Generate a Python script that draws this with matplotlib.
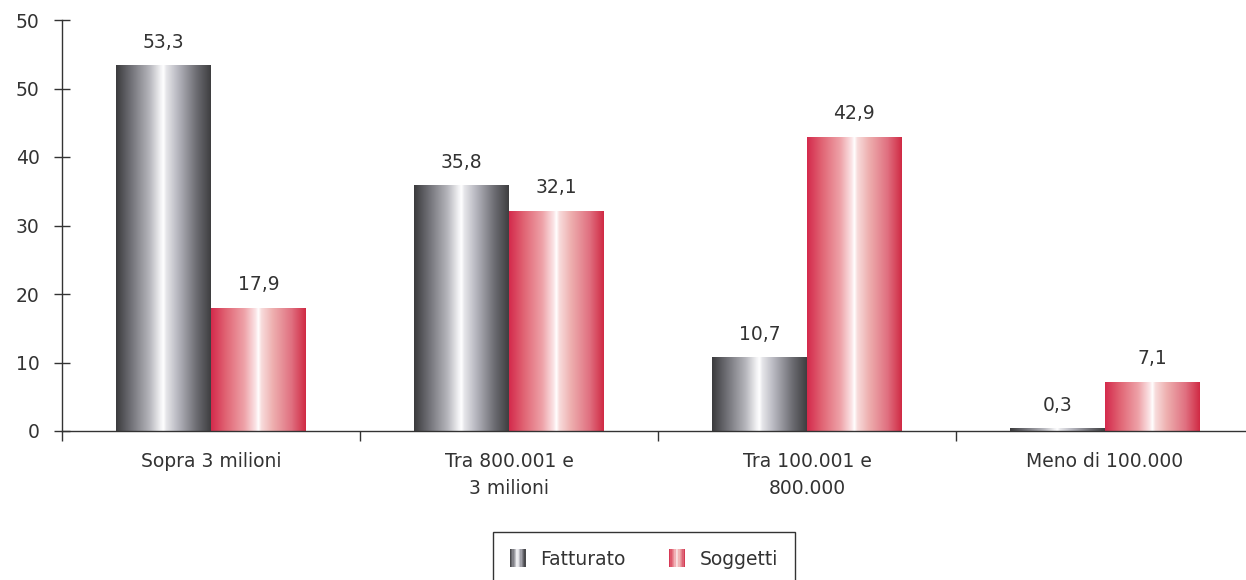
import matplotlib
matplotlib.use("Agg")
import matplotlib.pyplot as plt
import numpy as np
from matplotlib.colors import LinearSegmentedColormap
from matplotlib.legend_handler import HandlerBase
from matplotlib.patches import Rectangle

# dati
categorie = ["Sopra 3 milioni", "Tra 800.001 e\n3 milioni", "Tra 100.001 e\n800.000", "Meno di 100.000"]
fatturato = [53.3, 35.8, 10.7, 0.3]
soggetti = [17.9, 32.1, 42.9, 7.1]
serie = ["Fatturato", "Soggetti"]
y_ticks = [0, 10, 20, 30, 40, 50, 60]
y_tick_labels = ["0", "10", "20", "30", "40", "50", "50"]

TXT = "#333333"
FS = 13.5
plt.rcParams["font.family"] = ["DejaVu Sans"]

# ---------------------------------------------------------
# gradienti orizzontali delle barre
# ---------------------------------------------------------
grigio = LinearSegmentedColormap.from_list("grigio", [
    (0.00, "#3b3b3d"), (0.15, "#6e6e74"), (0.35, "#b4b4ba"), (0.47, "#f2f2f4"),
    (0.50, "#ffffff"), (0.53, "#e6e6ea"), (0.65, "#b8b8c0"), (0.85, "#6c6c72"),
    (1.00, "#3e3e40")])
rosso = LinearSegmentedColormap.from_list("rosso", [
    (0.00, "#d42a4c"), (0.15, "#e06272"), (0.35, "#eea2a8"), (0.47, "#fbe4e6"),
    (0.50, "#ffffff"), (0.53, "#f8dcdc"), (0.65, "#eeb0b0"), (0.85, "#e07080"),
    (1.00, "#d02a44")])
grad = np.linspace(0, 1, 256).reshape(1, -1)


class GradientHandler(HandlerBase):
    def __init__(self, cmap, n=12):
        super().__init__()
        self.cmap = cmap
        self.n = n

    def create_artists(self, legend, orig_handle, xdescent, ydescent,
                       width, height, fontsize, trans):
        arts = []
        w = width / self.n
        for i in range(self.n):
            r = Rectangle((-xdescent + i * w, -ydescent), w * 1.02, height,
                          facecolor=self.cmap((i + 0.5) / self.n),
                          edgecolor="none", transform=trans)
            arts.append(r)
        return arts


fig = plt.figure(figsize=(12.46, 5.8), dpi=100)
ax = fig.add_axes([62 / 1246, 149 / 580, 1192 / 1246, 411 / 580])

x = np.arange(len(categorie))
w = 0.318
b1 = ax.bar(x - w / 2, fatturato, w, color="none", edgecolor="none")
b2 = ax.bar(x + w / 2, soggetti, w, color="none", edgecolor="none")

for bars, cmap in [(b1, grigio), (b2, rosso)]:
    for p in bars:
        x0, h = p.get_x(), p.get_height()
        ax.imshow(grad, cmap=cmap, extent=[x0, x0 + p.get_width(), 0, h],
                  aspect="auto", zorder=2, interpolation="bilinear")

for bars, vals in [(b1, fatturato), (b2, soggetti)]:
    for p, v in zip(bars, vals):
        ax.annotate(f"{v:.1f}".replace(".", ","),
                    (p.get_x() + p.get_width() / 2, p.get_height()),
                    xytext=(0, 10), textcoords="offset points",
                    ha="center", va="bottom", fontsize=FS, color=TXT)

ax.set_xlim(-0.5, len(categorie) - 0.5)
ax.set_ylim(0, 60)

for s in ["top", "right"]:
    ax.spines[s].set_visible(False)
for s in ["left", "bottom"]:
    ax.spines[s].set_color(TXT)
    ax.spines[s].set_linewidth(1)

ax.set_yticks(y_ticks)
ax.set_yticklabels(y_tick_labels)
ax.tick_params(axis="y", direction="inout", length=12, width=1, color=TXT,
               labelsize=FS, labelcolor=TXT, pad=10)

ax.set_xticks(np.arange(len(categorie) + 1) - 0.5)
ax.set_xticklabels([])
ax.tick_params(axis="x", which="major", direction="out", length=7, width=1, color=TXT)
ax.set_xticks(x, minor=True)
ax.set_xticklabels(categorie, minor=True)
ax.tick_params(axis="x", which="minor", length=0, labelsize=FS,
               labelcolor=TXT, pad=15)
for t in ax.get_xticklabels(minor=True):
    t.set_linespacing(1.55)

handles = [Rectangle((0, 0), 1, 1), Rectangle((0, 0), 1, 1)]
leg = fig.legend(handles, serie, loc="upper center",
                 bbox_to_anchor=(644 / 1246, 1 - 532 / 580),
                 ncol=2, fontsize=FS, frameon=True, fancybox=False,
                 edgecolor=TXT, framealpha=1, handlelength=0.85,
                 handleheight=1.15, handletextpad=0.8, columnspacing=2.3,
                 borderpad=0.9, borderaxespad=0,
                 handler_map={handles[0]: GradientHandler(grigio),
                              handles[1]: GradientHandler(rosso)})
leg.get_frame().set_linewidth(1)
for t in leg.get_texts():
    t.set_color(TXT)

fig.savefig("out.png", dpi=100)
